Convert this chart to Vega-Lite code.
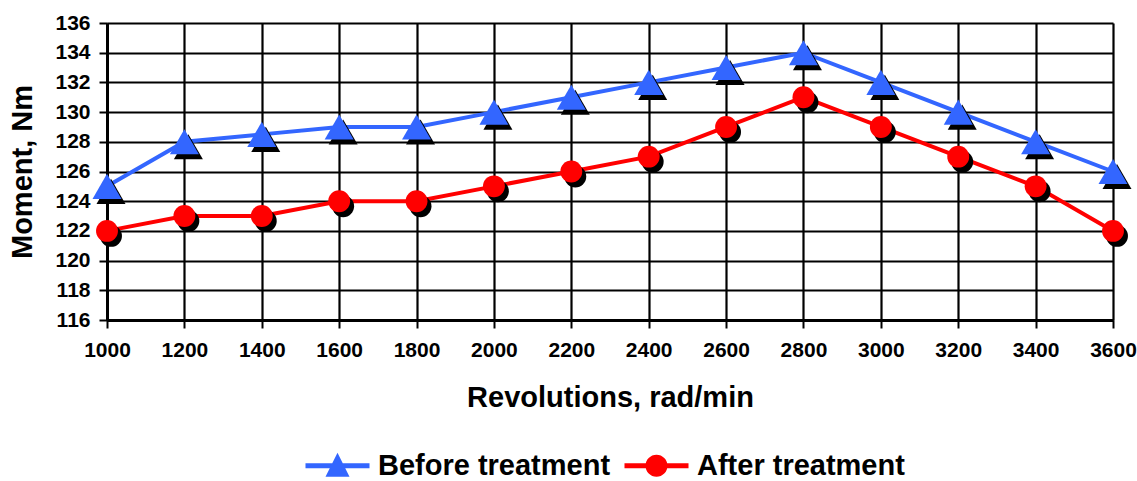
{
  "$schema": "https://vega.github.io/schema/vega-lite/v6.json",
  "width": 1006,
  "height": 297,
  "autosize": {"type": "none"},
  "padding": {"left": 107, "top": 23, "right": 24, "bottom": 161},
  "background": "white",
  "config": {
    "view": {"stroke": null},
    "font": "Liberation Sans",
    "axis": {"labelFont": "Liberation Sans", "titleFont": "Liberation Sans", "labelColor": "black", "titleColor": "black"}
  },
  "data": {
    "values": [
      {"rpm": 1000, "moment": 125, "series": "Before treatment"},
      {"rpm": 1200, "moment": 128, "series": "Before treatment"},
      {"rpm": 1400, "moment": 128.5, "series": "Before treatment"},
      {"rpm": 1600, "moment": 129, "series": "Before treatment"},
      {"rpm": 1800, "moment": 129, "series": "Before treatment"},
      {"rpm": 2000, "moment": 130, "series": "Before treatment"},
      {"rpm": 2200, "moment": 131, "series": "Before treatment"},
      {"rpm": 2400, "moment": 132, "series": "Before treatment"},
      {"rpm": 2600, "moment": 133, "series": "Before treatment"},
      {"rpm": 2800, "moment": 134, "series": "Before treatment"},
      {"rpm": 3000, "moment": 132, "series": "Before treatment"},
      {"rpm": 3200, "moment": 130, "series": "Before treatment"},
      {"rpm": 3400, "moment": 128, "series": "Before treatment"},
      {"rpm": 3600, "moment": 126, "series": "Before treatment"},
      {"rpm": 1000, "moment": 122, "series": "After treatment"},
      {"rpm": 1200, "moment": 123, "series": "After treatment"},
      {"rpm": 1400, "moment": 123, "series": "After treatment"},
      {"rpm": 1600, "moment": 124, "series": "After treatment"},
      {"rpm": 1800, "moment": 124, "series": "After treatment"},
      {"rpm": 2000, "moment": 125, "series": "After treatment"},
      {"rpm": 2200, "moment": 126, "series": "After treatment"},
      {"rpm": 2400, "moment": 127, "series": "After treatment"},
      {"rpm": 2600, "moment": 129, "series": "After treatment"},
      {"rpm": 2800, "moment": 131, "series": "After treatment"},
      {"rpm": 3000, "moment": 129, "series": "After treatment"},
      {"rpm": 3200, "moment": 127, "series": "After treatment"},
      {"rpm": 3400, "moment": 125, "series": "After treatment"},
      {"rpm": 3600, "moment": 122, "series": "After treatment"}
    ]
  },
  "encoding": {
    "x": {
      "field": "rpm", "type": "quantitative",
      "scale": {"domain": [1000, 3600], "nice": false, "zero": false},
      "axis": {
        "values": [1000,1200,1400,1600,1800,2000,2200,2400,2600,2800,3000,3200,3400,3600],
        "format": "d",
        "labelFlush": false,
        "labelOverlap": false,
        "title": "Revolutions, rad/min",
        "titleFontSize": 29, "titleFontWeight": "bold", "titlePadding": 23,
        "labelFontSize": 21, "labelFontWeight": "bold", "labelPadding": 11,
        "grid": true, "gridColor": "black", "gridWidth": 2.2, "gridOpacity": 1,
        "domainColor": "black", "domainWidth": 3,
        "tickColor": "black", "tickWidth": 2, "tickSize": 8
      }
    },
    "y": {
      "field": "moment", "type": "quantitative",
      "scale": {"domain": [116, 136], "nice": false, "zero": false},
      "axis": {
        "values": [116,118,120,122,124,126,128,130,132,134,136],
        "labelOverlap": false,
        "title": "Moment, Nm",
        "titleFontSize": 29, "titleFontWeight": "bold", "titlePadding": 17,
        "labelFontSize": 21, "labelFontWeight": "bold", "labelPadding": 9,
        "grid": true, "gridColor": "black", "gridWidth": 2.2, "gridOpacity": 1,
        "domainColor": "black", "domainWidth": 3,
        "tickColor": "black", "tickWidth": 2, "tickSize": 8
      }
    }
  },
  "layer": [
    {
      "mark": {"type": "line", "strokeWidth": 4},
      "encoding": {
        "color": {
          "field": "series", "type": "nominal",
          "scale": {"domain": ["Before treatment", "After treatment"], "range": ["#3366FF", "#FF0000"]},
          "legend": {
            "title": null,
            "orient": "none",
            "direction": "horizontal",
            "legendX": 216,
            "legendY": 428,
            "symbolSize": 576,
            "labelFontSize": 29,
            "labelFontWeight": "bold",
            "labelColor": "black",
            "labelFont": "Liberation Sans",
            "labelLimit": 500,
            "labelOffset": 26,
            "columnPadding": 13,
            "encode": {
              "symbols": {
                "update": {
                  "shape": {"signal": "datum.value === 'Before treatment' ? 'M-2.667,-0.208L2.667,-0.208L2.667,0.208L-2.667,0.208Z M0,-1.08L1.0,0.92L-1.0,0.92Z' : 'M-2.667,-0.208L2.667,-0.208L2.667,0.208L-2.667,0.208Z M-0.917,0A0.917,0.917 0 1,1 0.917,0A0.917,0.917 0 1,1 -0.917,0Z'"},
                  "fill": {"signal": "datum.value === 'Before treatment' ? '#3366FF' : '#FF0000'"},
                  "fillOpacity": {"value": 1},
                  "strokeWidth": {"value": 0}
                }
              }
            }
          }
        }
      }
    },
    {
      "transform": [{"filter": "datum.series === 'Before treatment'"}],
      "mark": {"type": "point", "shape": "triangle-up", "size": 840, "filled": true, "opacity": 1, "color": "black", "xOffset": 4, "yOffset": 5}
    },
    {
      "transform": [{"filter": "datum.series === 'After treatment'"}],
      "mark": {"type": "point", "shape": "circle", "size": 480, "filled": true, "opacity": 1, "color": "black", "xOffset": 4, "yOffset": 5}
    },
    {
      "transform": [{"filter": "datum.series === 'Before treatment'"}],
      "mark": {"type": "point", "shape": "triangle-up", "size": 840, "filled": true, "opacity": 1, "color": "#3366FF"}
    },
    {
      "transform": [{"filter": "datum.series === 'After treatment'"}],
      "mark": {"type": "point", "shape": "circle", "size": 480, "filled": true, "opacity": 1, "color": "#FF0000"}
    }
  ]
}
